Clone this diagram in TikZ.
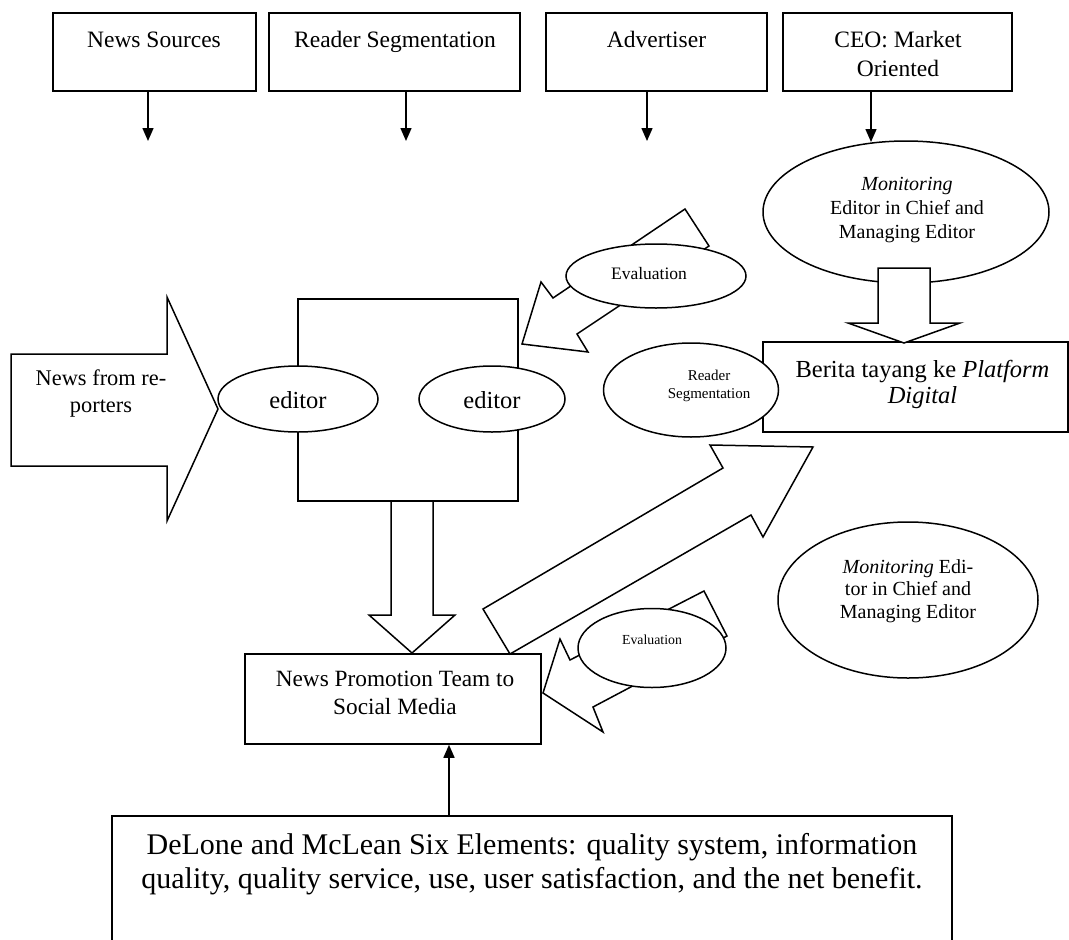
\documentclass[tikz,border=0pt]{standalone}
\usepackage{fontspec}
\setmainfont{Liberation Serif}
\usetikzlibrary{shapes.geometric,arrows.meta}
\tikzset{fsz/.style 2 args={font=\fontsize{#1}{#2}\selectfont}}
\begin{document}
\begin{tikzpicture}[x=1pt,y=-1pt,
  ln/.style={line width=1.5pt, draw=black},
  boxn/.style={ln, rectangle, inner sep=0pt, fill=white},
  ell/.style={ln, ellipse, inner sep=0pt, fill=white},
  blk/.style={ln, fill=white, line join=miter},
  arr/.style={line width=1.5pt, -{Triangle[length=13pt,width=11pt]}},
  txt/.style={inner sep=0pt, align=center}]
\useasboundingbox (0,0) rectangle (1069,940);

% top boxes
\node[boxn, minimum width=203pt, minimum height=78pt] (ns) at (154.5,52) {};
\node[boxn, minimum width=251pt, minimum height=78pt] (rs) at (394.5,52) {};
\node[boxn, minimum width=221pt, minimum height=78pt] (ad) at (656.5,52) {};
\node[boxn, minimum width=229pt, minimum height=78pt] (ceo) at (897.5,52) {};
\node[txt, fsz={23.5}{29}, anchor=base] (tns) at (154,47) {News Sources};
\node[txt, fsz={23.5}{29}, anchor=base] (trs) at (395,47) {Reader Segmentation};
\node[txt, fsz={23.5}{29}, anchor=base] (tad) at (656.5,47) {Advertiser};
\node[txt, fsz={23.5}{29}] (tceo) at (898,53.5) {CEO: Market\\Oriented};

\coordinate (a1) at (148,141);
\coordinate (a2) at (406,141);
\coordinate (a3) at (647,141);
\coordinate (a4) at (871,142);
\draw[arr] (ns.south -| a1) -- (a1);
\draw[arr] (rs.south -| a2) -- (a2);
\draw[arr] (ad.south -| a3) -- (a3);
\draw[arr] (ceo.south -| a4) -- (a4);

% monitoring ellipse 1
\node[ell, minimum width=286pt, minimum height=142pt] (m1) at (906,212) {};
\node[txt, fsz={20}{24}] (tm1) at (907,210.4) {\textit{Monitoring}\\Editor in Chief and\\Managing Editor};

% Berita box
\node[boxn, minimum width=305pt, minimum height=90pt] (ber) at (915.5,387) {};
\node[txt, fsz={24.5}{26}] (tber) at (922.5,384.2) {Berita tayang ke \textit{Platform}\\\textit{Digital}};

% block arrow monitoring -> berita
\draw[blk] (878,268) -- (930,268) -- (930,323) -- (960,323) -- (904,343) -- (848,323) -- (878,323) -- cycle;

% reader segmentation ellipse
\node[ell, minimum width=175pt, minimum height=94pt] (rse) at (691,390) {};
\node[txt, fsz={15}{18}] (trse) at (709,385.5) {Reader\\Segmentation};

% upper evaluation arrow
\draw[blk] (685,209) -- (709,246) -- (577,334) -- (588,352) -- (522,344) -- (541,282) -- (553,298) -- cycle;
\node[ell, minimum width=180pt, minimum height=64pt] (ev1) at (656,276) {};
\node[txt, fsz={17.5}{21}, anchor=base] (tev1) at (649,279) {Evaluation};

% center box with editors
\node[boxn, minimum width=220pt, minimum height=202pt] (cb) at (408,400) {};
\node[ell, minimum width=160pt, minimum height=66pt] (e1) at (298,399) {};
\node[ell, minimum width=146pt, minimum height=66pt] (e2) at (492,399) {};
\node[txt, fsz={24.5}{29}, anchor=base] (te1) at (298,408) {editor};
\node[txt, fsz={24.5}{29}, anchor=base] (te2) at (492,408) {editor};

% left block arrow
\draw[blk] (11,354) -- (167,354) -- (167,297) -- (218,409) -- (167,521) -- (167,466) -- (11,466) -- cycle;
\node[txt, fsz={22.4}{27}] (tnr) at (101,393.3) {News from re-\\porters};

% down block arrow center box -> promotion
\draw[blk] (391,501) -- (433,501) -- (433,615) -- (455,615) -- (412,653) -- (369,615) -- (391,615) -- cycle;

% news promotion box
\node[boxn, minimum width=296pt, minimum height=90pt] (np) at (393,699) {};
\node[txt, fsz={23.3}{28}] (tnp) at (395,693) {News Promotion Team to\\Social Media};

% diagonal arrow promotion -> berita
\draw[blk] (510,654) -- (483,609) -- (723,468) -- (710,445) -- (813,447) -- (763,537) -- (751,515) -- cycle;

% lower evaluation arrow
\draw[blk] (704,591) -- (727,636) -- (593,707) -- (603,732) -- (543,693) -- (560,639) -- (570,660) -- cycle;
\node[ell, minimum width=148pt, minimum height=79pt] (ev2) at (652,648) {};
\node[txt, fsz={13.8}{17}, anchor=base] (tev2) at (652,644) {Evaluation};

% monitoring ellipse 2
\node[ell, minimum width=260pt, minimum height=156pt] (m2) at (908,600) {};
\node[txt, fsz={20}{22.5}] (tm2) at (908,590.9) {\textit{Monitoring} Edi-\\tor in Chief and\\Managing Editor};

% bottom box
\node[boxn, minimum width=840pt, minimum height=160pt] (dm) at (532,896) {};
\node[txt, fsz={30}{34}] (tdm) at (532,864) {DeLone and McLean Six Elements: quality system, information\\quality, quality service, use, user satisfaction, and the net benefit.};
\coordinate (u1) at (449,816);
\draw[arr] (u1) -- (u1 |- np.south);
\end{tikzpicture}
\end{document}
